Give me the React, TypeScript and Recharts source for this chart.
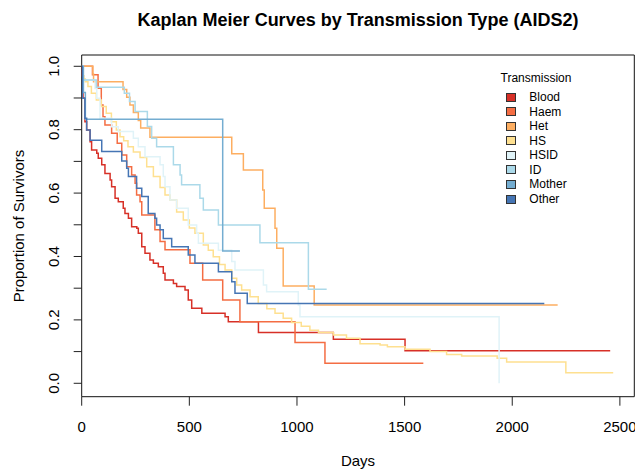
import React from 'react';
import { LineChart, Line, XAxis, YAxis, Legend, Label, ReferenceArea } from 'recharts';

const FONT = '"Liberation Sans", Arial, Helvetica, sans-serif';

const transmissionTypes = ['Blood', 'Haem', 'Het', 'HS', 'HSID', 'ID', 'Mother', 'Other'];
const seriesColors = ['#D73027', '#F46D43', '#FDAE61', '#FEE090', '#E0F3F8', '#ABD9E9', '#74ADD1', '#4575B4'];

const bloodDays = [0, 1, 6, 15, 23, 39, 46, 70, 77, 93, 108, 132, 139, 155, 170, 193, 201, 217, 232, 256, 263, 279, 294, 317, 333, 356, 379, 387, 426, 441, 480, 495, 511, 558, 666, 681, 821, 1169, 1502, 2455];
const bloodSurv = [1, 0.97, 0.9, 0.825, 0.799, 0.762, 0.736, 0.726, 0.71, 0.689, 0.662, 0.641, 0.62, 0.584, 0.573, 0.552, 0.536, 0.521, 0.494, 0.489, 0.473, 0.431, 0.41, 0.389, 0.379, 0.368, 0.347, 0.326, 0.315, 0.305, 0.294, 0.263, 0.237, 0.221, 0.21, 0.194, 0.16, 0.139, 0.103, 0.103];

const haemDays = [0, 50, 76, 91, 99, 108, 139, 165, 186, 209, 232, 248, 255, 271, 279, 340, 364, 387, 503, 562, 655, 735, 991, 1130, 1587];
const haemSurv = [1, 0.973, 0.931, 0.878, 0.841, 0.815, 0.789, 0.757, 0.72, 0.683, 0.657, 0.631, 0.594, 0.573, 0.531, 0.484, 0.447, 0.421, 0.379, 0.326, 0.263, 0.194, 0.129, 0.063, 0.063];

const hetDays = [0, 52, 55, 192, 209, 224, 240, 263, 274, 317, 697, 751, 841, 848, 898, 906, 936, 1080, 2211];
const hetSurv = [1, 0.976, 0.951, 0.927, 0.902, 0.878, 0.854, 0.829, 0.805, 0.776, 0.724, 0.673, 0.61, 0.552, 0.489, 0.426, 0.307, 0.247, 0.247];

const hsDays = [0, 5, 10, 17, 29, 45, 68, 91, 114, 138, 161, 178, 195, 215, 240, 271, 302, 333, 364, 387, 410, 441, 472, 500, 526, 565, 588, 611, 640, 666, 697, 720, 743, 782, 820, 860, 898, 936, 975, 1020, 1060, 1100, 1169, 1230, 1293, 1386, 1420, 1502, 1618, 1695, 1765, 1930, 1974, 2249, 2469];
const hsSurv = [1, 0.97, 0.96, 0.951, 0.936, 0.915, 0.894, 0.873, 0.852, 0.825, 0.799, 0.778, 0.765, 0.746, 0.73, 0.712, 0.683, 0.652, 0.618, 0.594, 0.578, 0.54, 0.515, 0.49, 0.473, 0.436, 0.42, 0.399, 0.375, 0.357, 0.331, 0.31, 0.294, 0.273, 0.252, 0.235, 0.221, 0.205, 0.192, 0.18, 0.167, 0.16, 0.152, 0.142, 0.125, 0.121, 0.115, 0.107, 0.1, 0.091, 0.086, 0.079, 0.067, 0.033, 0.033];

const hsidDays = [0, 5, 62, 70, 85, 139, 170, 240, 263, 294, 364, 379, 387, 410, 441, 495, 534, 542, 635, 697, 712, 844, 859, 1006, 1014, 1939];
const hsidSurv = [1, 0.957, 0.93, 0.899, 0.836, 0.809, 0.794, 0.773, 0.746, 0.715, 0.689, 0.652, 0.62, 0.578, 0.552, 0.499, 0.473, 0.442, 0.42, 0.384, 0.357, 0.31, 0.289, 0.247, 0.21, 0];

const idDays = [0, 5, 68, 198, 222, 248, 305, 325, 348, 426, 457, 464, 549, 565, 635, 828, 1053, 1138];
const idSurv = [1, 0.957, 0.934, 0.915, 0.889, 0.857, 0.81, 0.773, 0.746, 0.689, 0.657, 0.626, 0.584, 0.547, 0.499, 0.443, 0.297, 0.297];

const motherDays = [0, 8, 17, 655, 735];
const motherSurv = [1, 0.917, 0.833, 0.417, 0.417];

const otherDays = [0, 3, 15, 23, 39, 93, 186, 209, 217, 255, 279, 309, 340, 348, 364, 379, 418, 495, 526, 635, 697, 712, 769, 2149];
const otherSurv = [1, 0.899, 0.836, 0.799, 0.767, 0.731, 0.701, 0.678, 0.652, 0.615, 0.589, 0.536, 0.521, 0.499, 0.484, 0.457, 0.431, 0.405, 0.379, 0.352, 0.32, 0.284, 0.252, 0.252];

const xTicks = [0, 500, 1000, 1500, 2000, 2500];
const yTicks = [0, 0.1, 0.2, 0.3, 0.4, 0.5, 0.6, 0.7, 0.8, 0.9, 1.0];
const yTickLabels = ['0.0', '', '0.2', '', '0.4', '', '0.6', '', '0.8', '', '1.0'];

const zip = (days: number[], surv: number[]) => days.map((t, i) => ({ t, s: surv[i] }));

const seriesData = [
  zip(bloodDays, bloodSurv),
  zip(haemDays, haemSurv),
  zip(hetDays, hetSurv),
  zip(hsDays, hsSurv),
  zip(hsidDays, hsidSurv),
  zip(idDays, idSurv),
  zip(motherDays, motherSurv),
  zip(otherDays, otherSurv),
];

const XTick = (props: any) => {
  const { x, payload } = props;
  return (
    <text x={x} y={432.4} textAnchor="middle" fontFamily={FONT} fontSize={15} fill="#000">
      {String(payload.value)}
    </text>
  );
};

const YTick = (props: any) => {
  const { y, payload } = props;
  const idx = yTicks.findIndex((v) => Math.abs(v - payload.value) < 1e-6);
  const label = idx >= 0 ? yTickLabels[idx] : '';
  const bx = 59.4;
  return (
    <text x={bx} y={y} transform={`rotate(-90, ${bx}, ${y})`} textAnchor="middle" fontFamily={FONT} fontSize={15} fill="#000">
      {label}
    </text>
  );
};

const LegendBox = () => (
  <div style={{ position: 'relative', width: 145, height: 150, fontFamily: FONT, fontSize: 12, color: '#000' }}>
    <div style={{ position: 'absolute', left: 0, width: 92, top: 11.3, lineHeight: '14px', textAlign: 'center', whiteSpace: 'nowrap' }}>Transmission</div>
    {transmissionTypes.map((name, i) => {
      const cy = 37.3 + i * 14.53;
      return (
        <React.Fragment key={name}>
          <div style={{ position: 'absolute', left: 16, top: cy - 4.5, width: 8, height: 7, background: seriesColors[i], border: '1px solid #333' }} />
          <div style={{ position: 'absolute', left: 39.3, top: cy - 7, lineHeight: '14px', whiteSpace: 'nowrap' }}>{name}</div>
        </React.Fragment>
      );
    })}
  </div>
);

export default function App() {
  return (
    <div style={{ position: 'absolute', left: 0, top: 0, width: 635, height: 472, overflow: 'hidden', background: '#fff' }}>
      <div style={{ position: 'absolute', left: 58, width: 600, top: 10.8, textAlign: 'center', fontFamily: FONT, fontWeight: 'bold', fontSize: 18, lineHeight: '18px', color: '#000', whiteSpace: 'nowrap' }}>
        Kaplan Meier Curves by Transmission Type (AIDS2)
      </div>
      <LineChart width={635} height={472} margin={{ top: 55, right: 0.7, bottom: 35.3, left: 21.7 }}>
        <XAxis
          type="number"
          dataKey="t"
          domain={[0, 2567]}
          ticks={xTicks}
          interval={0}
          allowDataOverflow
          height={40}
          tickSize={9}
          tickLine={{ stroke: '#222' }}
          axisLine={false}
          tick={<XTick />}
        >
          <Label content={() => <text x={358} y={466} textAnchor="middle" fontFamily={FONT} fontSize={15} fill="#000">Days</text>} />
        </XAxis>
        <YAxis
          type="number"
          dataKey="s"
          domain={[-0.0423, 1.0356]}
          ticks={yTicks}
          interval={0}
          allowDataOverflow
          width={60}
          tickSize={8}
          tickLine={{ stroke: '#222' }}
          axisLine={false}
          tick={<YTick />}
        >
          <Label content={() => <text x={24} y={226} transform="rotate(-90, 24, 226)" textAnchor="middle" fontFamily={FONT} fontSize={15} fill="#000">Proportion of Survivors</text>} />
        </YAxis>
        <ReferenceArea x1={0} x2={2567} y1={-0.0423} y2={1.0356} fill="none" stroke="#111" strokeWidth={1} ifOverflow="visible" />
        {seriesData.map((d, i) => (
          <Line
            key={transmissionTypes[i]}
            data={d}
            dataKey="s"
            name={transmissionTypes[i]}
            type="stepAfter"
            stroke={seriesColors[i]}
            strokeWidth={1.5}
            dot={false}
            activeDot={false}
            isAnimationActive={false}
          />
        ))}
        <Legend
          layout="vertical"
          align="center"
          verticalAlign="middle"
          content={() => <LegendBox />}
          wrapperStyle={{ left: 490, top: 60, width: 145, height: 150 }}
        />
      </LineChart>
    </div>
  );
}
